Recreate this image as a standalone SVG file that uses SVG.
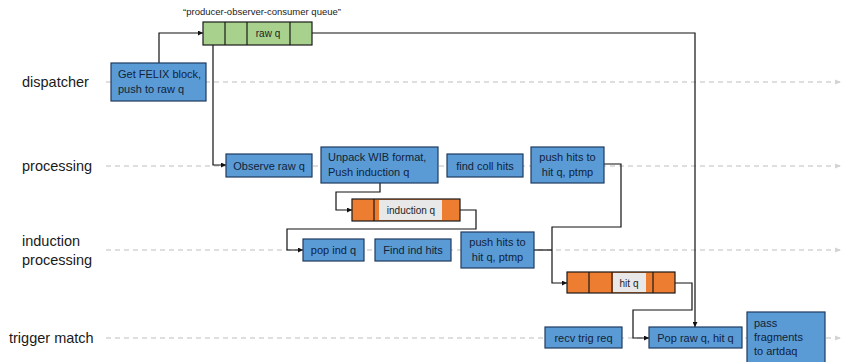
<svg xmlns="http://www.w3.org/2000/svg" width="844" height="362" viewBox="0 0 844 362">
<style>
  .lane{stroke:#d3d3d3;stroke-width:1.5;stroke-dasharray:5 4;fill:none}
  .lbl{font-family:"Liberation Sans",Arial,sans-serif;font-size:14.5px;fill:#1a1a1a}
  .box{fill:#5b9bd5;stroke:#1f3a5f;stroke-width:1.2}
  .bt{font-family:"Liberation Sans",Arial,sans-serif;font-size:11px;fill:#10233a}
  .c{text-anchor:middle}
  .qg{fill:#a9d18e;stroke:#1a1a1a;stroke-width:1.2}
  .qo{fill:#ed7d31;stroke:#1a1a1a;stroke-width:1.2}
  .ql{fill:#e8e8e8}
  .qt{font-family:"Liberation Sans",Arial,sans-serif;font-size:10px;fill:#222;text-anchor:middle}
  .cn{stroke:#111;stroke-width:1.2;fill:none}
</style>
<defs>
  <marker id="ah" viewBox="0 0 10 10" refX="10" refY="5" markerWidth="5" markerHeight="5" orient="auto" markerUnits="userSpaceOnUse">
    <path d="M0,0 L10,5 L0,10 z" fill="#111"/>
  </marker>
  <marker id="lah" viewBox="0 0 10 10" refX="10" refY="5" markerWidth="6" markerHeight="6" orient="auto" markerUnits="userSpaceOnUse">
    <path d="M0,1 L10,5 L0,9 z" fill="#d3d3d3"/>
  </marker>
</defs>
<rect width="844" height="362" fill="#fff"/>

<g id="lanes">
  <line class="lane" x1="106" y1="82" x2="841" y2="82" marker-end="url(#lah)"/>
  <line class="lane" x1="106" y1="166" x2="841" y2="166" marker-end="url(#lah)"/>
  <line class="lane" x1="106" y1="250" x2="841" y2="250" marker-end="url(#lah)"/>
  <line class="lane" x1="106" y1="338" x2="841" y2="338" marker-end="url(#lah)"/>
  <text class="lbl" x="22" y="87">dispatcher</text>
  <text class="lbl" x="22" y="171">processing</text>
  <text class="lbl" x="22" y="246">induction</text>
  <text class="lbl" x="22" y="265">processing</text>
  <text class="lbl" x="9" y="343">trigger match</text>
</g>

<g id="connectors">
  <polyline class="cn" points="159,63 159,33 203,33" marker-end="url(#ah)"/>
  <polyline class="cn" points="312,33 695,33 695,327" marker-end="url(#ah)"/>
  <polyline class="cn" points="213,45 213,165 226,165" marker-end="url(#ah)"/>
  <polyline class="cn" points="380,183 380,192 336,192 336,210 352,210" marker-end="url(#ah)"/>
  <polyline class="cn" points="460,210 476,210 476,229 287,229 287,250 303,250" marker-end="url(#ah)"/>
  <polyline class="cn" points="604,164 621,164 621,227 552,227 552,283 567,283" marker-end="url(#ah)"/>
  <polyline class="cn" points="534,250 552,250"/>
  <polyline class="cn" points="675,283 692,283 692,310 633,310 633,338 649,338" marker-end="url(#ah)"/>
</g>

<g id="raw-q">
  <text class="qt" x="262" y="15" style="font-size:9.5px">“producer-observer-consumer queue”</text>
  <rect class="qg" x="203" y="22" width="109" height="23"/>
  <line class="qg" x1="225" y1="22" x2="225" y2="45"/>
  <line class="qg" x1="247" y1="22" x2="247" y2="45"/>
  <line class="qg" x1="290" y1="22" x2="290" y2="45"/>
  <text class="qt" x="268" y="37">raw q</text>
</g>

<g id="induction-q">
  <rect class="qo" x="352" y="199" width="108" height="22"/>
  <rect class="ql" x="379" y="200" width="63" height="20"/>
  <line class="qo" x1="374" y1="199" x2="374" y2="221"/>
  <text class="qt" x="411" y="214">induction q</text>
</g>

<g id="hit-q">
  <rect class="qo" x="567" y="272" width="108" height="21"/>
  <line class="qo" x1="589" y1="272" x2="589" y2="293"/>
  <line class="qo" x1="612" y1="272" x2="612" y2="293"/>
  <line class="qo" x1="653" y1="272" x2="653" y2="293"/>
  <rect class="ql" x="613" y="273" width="33" height="19"/>
  <text class="qt" x="629" y="287">hit q</text>
</g>

<g id="get-felix">
  <rect class="box" x="111" y="63" width="95" height="38"/>
  <text class="bt" x="118" y="78">Get FELIX block,</text>
  <text class="bt" x="118" y="93">push to raw q</text>
</g>
<g id="observe-raw-q">
  <rect class="box" x="226" y="154" width="86" height="23"/>
  <text class="bt c" x="269" y="169.5">Observe raw q</text>
</g>
<g id="unpack-wib">
  <rect class="box" x="321" y="147" width="117" height="36"/>
  <text class="bt" x="328" y="161">Unpack WIB format,</text>
  <text class="bt" x="328" y="176">Push induction q</text>
</g>
<g id="find-coll-hits">
  <rect class="box" x="447" y="154" width="76" height="23"/>
  <text class="bt c" x="485" y="169.5">find coll hits</text>
</g>
<g id="push-hits-proc">
  <rect class="box" x="531" y="147" width="73" height="36"/>
  <text class="bt c" x="567.5" y="161">push hits to</text>
  <text class="bt c" x="567.5" y="176">hit q, ptmp</text>
</g>
<g id="pop-ind-q">
  <rect class="box" x="303" y="239" width="61" height="22"/>
  <text class="bt c" x="333.5" y="254">pop ind q</text>
</g>
<g id="find-ind-hits">
  <rect class="box" x="375" y="239" width="76" height="22"/>
  <text class="bt c" x="413" y="254">Find ind hits</text>
</g>
<g id="push-hits-ind">
  <rect class="box" x="461" y="232" width="73" height="36"/>
  <text class="bt c" x="497.5" y="246">push hits to</text>
  <text class="bt c" x="497.5" y="261">hit q, ptmp</text>
</g>
<g id="recv-trig-req">
  <rect class="box" x="545" y="327" width="77" height="21"/>
  <text class="bt c" x="583.5" y="341.5">recv trig req</text>
</g>
<g id="pop-raw-hit-q">
  <rect class="box" x="649" y="327" width="93" height="21"/>
  <text class="bt c" x="695.5" y="341.5">Pop raw q, hit q</text>
</g>
<g id="pass-fragments">
  <rect class="box" x="747" y="312" width="78" height="56"/>
  <text class="bt" x="754" y="327">pass</text>
  <text class="bt" x="754" y="341">fragments</text>
  <text class="bt" x="754" y="355">to artdaq</text>
</g>
</svg>
